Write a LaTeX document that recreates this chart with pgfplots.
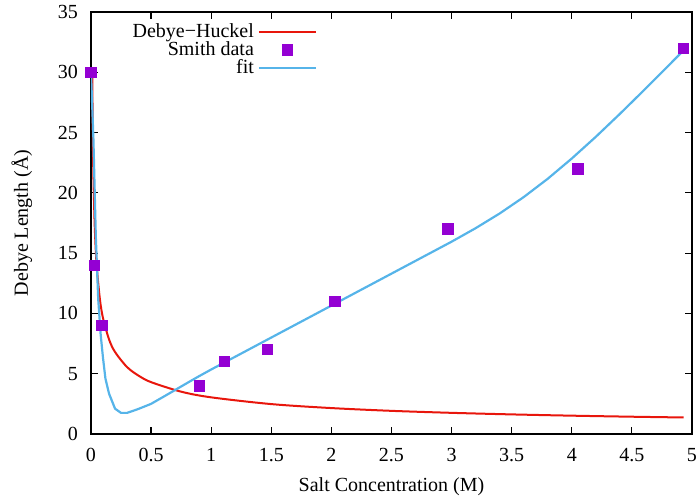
\documentclass[border=0pt]{standalone}
\usepackage{fontspec}
\setmainfont{Liberation Serif}
\usepackage{pgfplots}
\pgfplotsset{compat=1.18}
\definecolor{dhred}{RGB}{232,22,12}
\definecolor{smithpurple}{RGB}{148,0,211}
\definecolor{fitblue}{RGB}{86,180,233}
\begin{document}
\begin{tikzpicture}
\begin{axis}[
  name=ax,
  scale only axis,
  width=300.5pt, height=211pt,
  xmin=0, xmax=5, ymin=0, ymax=35,
  xtick={0,0.5,...,5}, ytick={0,5,...,35},
  xticklabels={0,0.5,1,1.5,2,2.5,3,3.5,4,4.5,5},
  tick align=inside,
  major tick length=3.5pt,
  axis line style={line width=0.8pt},
  every tick/.style={black, line width=0.6pt},
  /pgf/number format/assume math mode=true,
  tick label style={font=\fontsize{10}{12}\selectfont},
  xticklabel style={yshift=-3.5pt},
  yticklabel style={xshift=-3pt},
  xlabel={Salt Concentration (M)},
  ylabel={Debye Length (Å)},
  xlabel style={at={(axis description cs:0.5,-0.126)},anchor=center},
  ylabel style={at={(axis description cs:-0.115,0.5)},anchor=center},
  legend plot pos=right,
  legend cell align=right,
  legend style={draw=none, fill=none, at={(axis description cs:0.38,0.988)}, anchor=north east, row sep=-3.5pt, inner sep=1pt},
  legend image code/.code={\draw[mark repeat=2,mark phase=2,#1] plot coordinates {(0cm,0cm)(0.5cm,0cm)(1.0cm,0cm)};},
  clip=true,
]
\addplot[dhred, line width=1pt, smooth] coordinates {
(0.01,30.4)(0.015,24.8)(0.02,21.5)(0.03,17.55)(0.04,15.2)(0.05,13.6)(0.075,11.1)(0.1,9.61)(0.15,7.85)(0.2,6.80)(0.3,5.55)(0.4,4.81)(0.5,4.30)(0.75,3.51)(1.0,3.04)(1.5,2.48)(2.0,2.15)(2.5,1.92)(3.0,1.755)(3.5,1.625)(4.0,1.52)(4.5,1.433)(4.93,1.37)
};
\addlegendentry{Debye−Huckel}
\addplot[only marks, mark=square*, mark size=2.6pt, color=smithpurple] coordinates {
(0.0,30)(0.03,14)(0.09,9)(0.9,4)(1.11,6)(1.47,7)(2.03,11)(2.97,17)(4.05,22)(4.93,32)
};
\addlegendentry{Smith data}
\addplot[fitblue, line width=1.1pt, line join=round] coordinates {
(0,30)(0.02,24.5)(0.04,16.4)(0.06,11.2)(0.08,8.3)(0.1,6.3)(0.12,4.6)(0.15,3.35)(0.2,2.1)(0.25,1.75)(0.3,1.75)(0.35,1.92)(0.4,2.1)(0.5,2.5)(0.6,3.07)(0.7,3.65)(0.8,4.23)(0.9,4.8)(1.0,5.35)(1.2,6.41)(1.4,7.47)(1.6,8.53)(1.8,9.59)(2.0,10.65)(2.2,11.71)(2.4,12.77)(2.6,13.83)(2.8,14.89)(3.0,15.95)(3.2,17.07)(3.4,18.29)(3.6,19.65)(3.8,21.17)(4.0,22.85)(4.2,24.65)(4.4,26.55)(4.6,28.51)(4.8,30.51)(4.93,31.82)
};
\addlegendentry{fit}
\end{axis}
\pgfresetboundingbox
\path ([xshift=-45.5pt,yshift=-34.5pt]ax.south west) rectangle ([xshift=2.5pt,yshift=6pt]ax.north east);
\end{tikzpicture}
\end{document}
